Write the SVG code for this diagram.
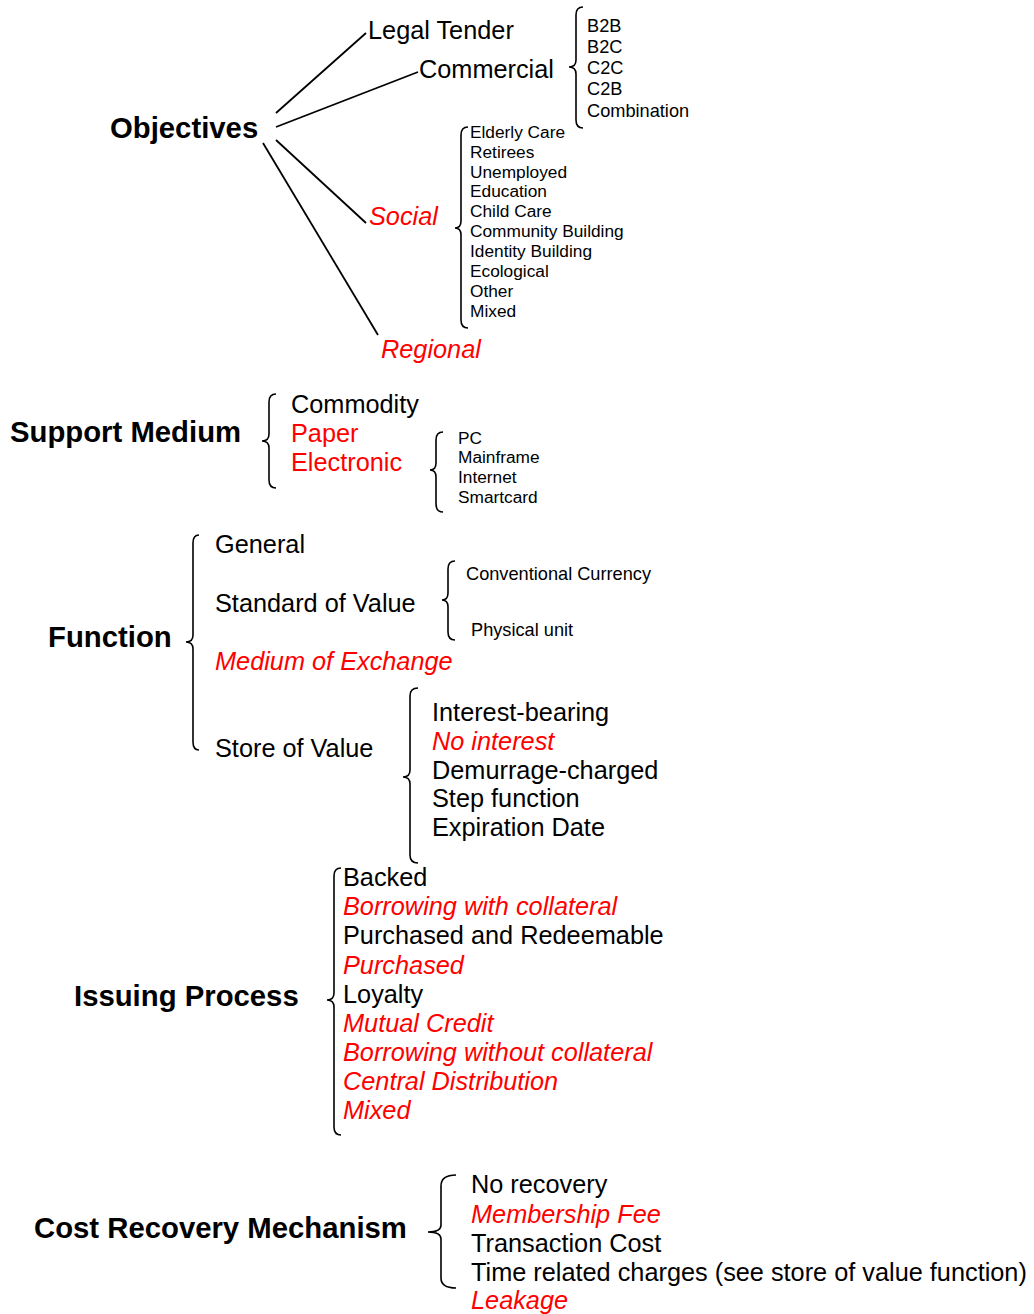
<svg xmlns="http://www.w3.org/2000/svg" width="1034" height="1314" viewBox="0 0 1034 1314">
<style>
text{font-family:"Liberation Sans",Arial,sans-serif;fill:#000}
.h{font-weight:bold;font-size:29.3px}
.m{font-size:25.3px}
.s{font-size:17.3px}
.s2{font-size:18.2px}
.r{fill:#ff0000;font-style:italic}
.rn{fill:#ff0000}
.ln{stroke:#000;stroke-width:1.8;fill:none}
.br{stroke:#000;stroke-width:1.6;fill:none}
</style>
<rect width="1034" height="1314" fill="#fff"/>
<g id="connectors">
<line class="ln" x1="276" y1="113" x2="366" y2="33"/>
<line class="ln" x1="276" y1="127" x2="418" y2="72"/>
<line class="ln" x1="276" y1="140" x2="366" y2="223"/>
<line class="ln" x1="263" y1="143" x2="378" y2="335"/>
<path class="br" d="M583,7 Q576,7 576,15 L576,60 Q576,67 569,67 Q576,67 576,74 L576,120 Q576,128 583,128"/>
<path class="br" d="M468,127 Q461,127 461,135 L461,221 Q461,228 455,228 Q461,228 461,235 L461,320 Q461,328 468,328"/>
<path class="br" d="M276,394 Q269,394 269,402 L269,434 Q269,441 262,441 Q269,441 269,448 L269,480 Q269,488 276,488"/>
<path class="br" d="M443,432 Q436,432 436,440 L436,463 Q436,470 430,470 Q436,470 436,477 L436,504 Q436,512 443,512"/>
<path class="br" d="M199,535 Q193,535 193,543 L193,635 Q193,642 186,642 Q193,642 193,649 L193,742 Q193,750 199,750"/>
<path class="br" d="M455,561 Q448,561 448,569 L448,593 Q448,600 442,600 Q448,600 448,607 L448,632 Q448,640 455,640"/>
<path class="br" d="M418,688 Q410,688 410,696 L410,770 Q410,777 403,777 Q410,777 410,784 L410,855 Q410,863 418,863"/>
<path class="br" d="M341,868 Q334,868 334,876 L334,993 Q334,1000 327,1000 Q334,1000 334,1007 L334,1127 Q334,1135 341,1135"/>
<path class="br" d="M456,1175 Q441,1175 441,1186 L441,1225 Q441,1232 428,1232 Q441,1232 441,1239 L441,1278 Q441,1288 456,1288"/>
</g>
<g id="objectives">
<text class="h" x="110" y="138">Objectives</text>
</g>
<g id="legal-tender"><text class="m" x="368" y="39">Legal Tender</text></g>
<g id="commercial">
<text class="m" x="419" y="78">Commercial</text>
<text class="s2" x="587" y="32">B2B</text>
<text class="s2" x="587" y="53">B2C</text>
<text class="s2" x="587" y="74">C2C</text>
<text class="s2" x="587" y="95">C2B</text>
<text class="s2" x="587" y="117">Combination</text>
</g>
<g id="social">
<text class="m r" x="369" y="225">Social</text>
<text class="s" x="470" y="138">Elderly Care</text>
<text class="s" x="470" y="158">Retirees</text>
<text class="s" x="470" y="178">Unemployed</text>
<text class="s" x="470" y="197">Education</text>
<text class="s" x="470" y="217">Child Care</text>
<text class="s" x="470" y="237">Community Building</text>
<text class="s" x="470" y="257">Identity Building</text>
<text class="s" x="470" y="277">Ecological</text>
<text class="s" x="470" y="297">Other</text>
<text class="s" x="470" y="317">Mixed</text>
</g>
<g id="regional"><text class="m r" x="381" y="358">Regional</text></g>
<g id="support-medium">
<text class="h" x="10" y="442">Support Medium</text>
<text class="m" x="291" y="413">Commodity</text>
<text class="m rn" x="291" y="442">Paper</text>
<text class="m rn" x="291" y="471">Electronic</text>
<text class="s" x="458" y="444">PC</text>
<text class="s" x="458" y="463">Mainframe</text>
<text class="s" x="458" y="483">Internet</text>
<text class="s" x="458" y="503">Smartcard</text>
</g>
<g id="function">
<text class="h" x="48" y="647">Function</text>
<text class="m" x="215" y="553">General</text>
<text class="m" x="215" y="612">Standard of Value</text>
<text class="m r" x="215" y="670">Medium of Exchange</text>
<text class="m" x="215" y="757">Store of Value</text>
<text class="s2" x="466" y="580">Conventional Currency</text>
<text class="s2" x="471" y="636">Physical unit</text>
<text class="m" x="432" y="721">Interest-bearing</text>
<text class="m r" x="432" y="750">No interest</text>
<text class="m" x="432" y="779">Demurrage-charged</text>
<text class="m" x="432" y="807">Step function</text>
<text class="m" x="432" y="836">Expiration Date</text>
</g>
<g id="issuing-process">
<text class="h" x="74" y="1006">Issuing Process</text>
<text class="m" x="343" y="886">Backed</text>
<text class="m r" x="343" y="915">Borrowing with collateral</text>
<text class="m" x="343" y="944">Purchased and Redeemable</text>
<text class="m r" x="343" y="974">Purchased</text>
<text class="m" x="343" y="1003">Loyalty</text>
<text class="m r" x="343" y="1032">Mutual Credit</text>
<text class="m r" x="343" y="1061">Borrowing without collateral</text>
<text class="m r" x="343" y="1090">Central Distribution</text>
<text class="m r" x="343" y="1119">Mixed</text>
</g>
<g id="cost-recovery">
<text class="h" x="34" y="1238">Cost Recovery Mechanism</text>
<text class="m" x="471" y="1193">No recovery</text>
<text class="m r" x="471" y="1223">Membership Fee</text>
<text class="m" x="471" y="1252">Transaction Cost</text>
<text class="m" x="471" y="1281">Time related charges (see store of value function)</text>
<text class="m r" x="471" y="1309">Leakage</text>
</g>
</svg>
